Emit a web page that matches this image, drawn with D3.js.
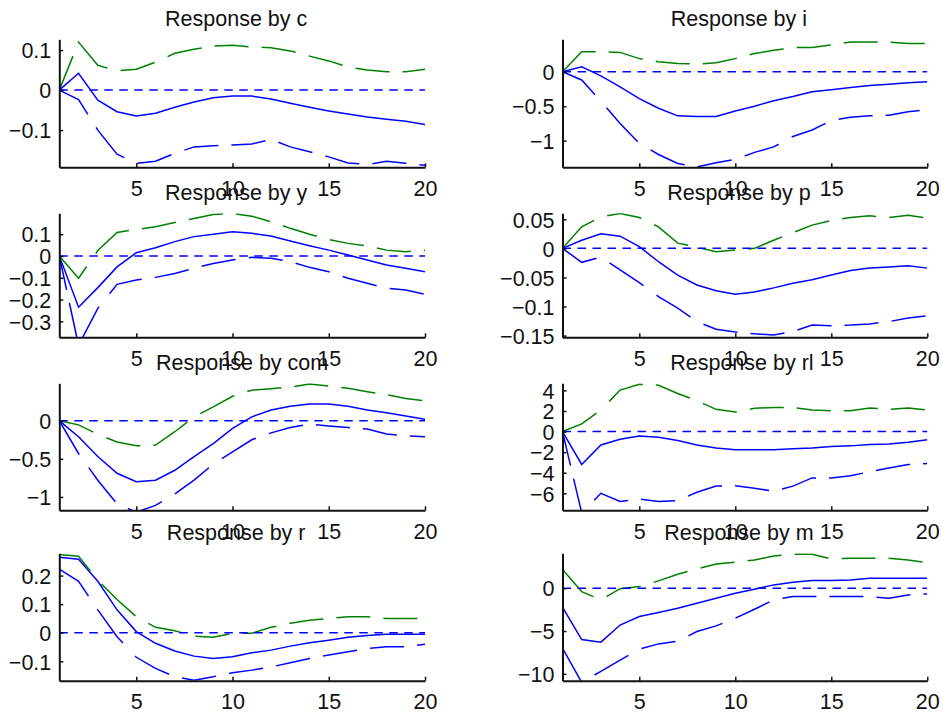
<!DOCTYPE html>
<html>
<head>
<meta charset="utf-8">
<title>Responses</title>
<script src="https://cdn.jsdelivr.net/npm/d3@7"></script>
<style>
  body { margin: 0; background: #fff; }
  svg text { font-family: "Liberation Sans", Arial, sans-serif; font-size: 21.5px; fill: #111; white-space: pre; }
</style>
</head>
<body>
<div id="chart"></div>
<script>
// horizon 1..20
var steps = d3.range(1, 21);
var xTicks = [5, 10, 15, 20];

// names are padded like a char matrix, hence the trailing blanks
var names = ["c  ", "i  ", "y  ", "p  ", "com", "rl ", "r  ", "m  "];

var c_mid = [0, 0.042, -0.025, -0.054, -0.065, -0.058, -0.043, -0.03, -0.019, -0.015, -0.015, -0.022, -0.033, -0.043, -0.052, -0.06, -0.067, -0.073, -0.078, -0.086];
var c_lo  = [0, -0.024, -0.1, -0.16, -0.183, -0.178, -0.158, -0.142, -0.139, -0.137, -0.135, -0.123, -0.142, -0.154, -0.167, -0.182, -0.186, -0.178, -0.183, -0.188];
var c_hi  = [0, 0.12, 0.062, 0.048, 0.052, 0.07, 0.092, 0.102, 0.11, 0.112, 0.108, 0.106, 0.098, 0.085, 0.073, 0.058, 0.05, 0.046, 0.046, 0.052];

var i_mid = [0, 0.07, -0.06, -0.22, -0.39, -0.53, -0.64, -0.65, -0.65, -0.57, -0.5, -0.42, -0.36, -0.29, -0.26, -0.23, -0.2, -0.18, -0.16, -0.145];
var i_lo  = [0, -0.12, -0.43, -0.75, -1.04, -1.2, -1.33, -1.38, -1.32, -1.27, -1.17, -1.09, -0.94, -0.845, -0.71, -0.66, -0.64, -0.63, -0.58, -0.55];
var i_hi  = [0, 0.29, 0.29, 0.28, 0.19, 0.145, 0.12, 0.11, 0.13, 0.19, 0.265, 0.31, 0.35, 0.35, 0.39, 0.43, 0.43, 0.43, 0.41, 0.41];

var y_mid = [0, -0.235, -0.145, -0.05, 0.015, 0.038, 0.066, 0.089, 0.1, 0.111, 0.104, 0.092, 0.069, 0.047, 0.027, 0.005, -0.018, -0.041, -0.056, -0.072];
var y_lo  = [0, -0.41, -0.24, -0.13, -0.11, -0.098, -0.08, -0.056, -0.034, -0.018, -0.006, -0.01, -0.026, -0.052, -0.072, -0.102, -0.125, -0.148, -0.156, -0.176];
var y_hi  = [0, -0.102, 0.025, 0.108, 0.122, 0.134, 0.154, 0.172, 0.19, 0.195, 0.183, 0.157, 0.127, 0.1, 0.076, 0.058, 0.046, 0.027, 0.02, 0.027];

var p_mid = [0, 0.014, 0.025, 0.021, 0.003, -0.023, -0.046, -0.063, -0.073, -0.079, -0.075, -0.068, -0.06, -0.054, -0.046, -0.038, -0.034, -0.032, -0.03, -0.034];
var p_lo  = [0, -0.024, -0.015, -0.037, -0.059, -0.083, -0.103, -0.126, -0.139, -0.144, -0.147, -0.149, -0.143, -0.132, -0.133, -0.132, -0.13, -0.126, -0.12, -0.116];
var p_hi  = [0, 0.037, 0.054, 0.06, 0.053, 0.037, 0.009, 0.002, -0.006, -0.003, 0, 0.014, 0.027, 0.04, 0.048, 0.053, 0.056, 0.053, 0.057, 0.052];

var com_mid = [0, -0.21, -0.47, -0.69, -0.8, -0.78, -0.65, -0.47, -0.3, -0.1, 0.05, 0.14, 0.19, 0.22, 0.22, 0.19, 0.14, 0.105, 0.06, 0.02];
var com_lo  = [0, -0.43, -0.78, -1.09, -1.2, -1.11, -0.96, -0.78, -0.57, -0.41, -0.25, -0.16, -0.09, -0.045, -0.07, -0.09, -0.11, -0.175, -0.2, -0.21];
var com_hi  = [0, -0.055, -0.18, -0.28, -0.33, -0.32, -0.145, 0.05, 0.18, 0.32, 0.4, 0.42, 0.44, 0.48, 0.455, 0.425, 0.38, 0.34, 0.29, 0.26];

var rl_mid = [0, -3.2, -1.3, -0.74, -0.42, -0.55, -0.87, -1.3, -1.6, -1.77, -1.77, -1.77, -1.68, -1.6, -1.45, -1.39, -1.26, -1.2, -1.03, -0.8];
var rl_lo  = [0, -7.9, -6.0, -6.8, -6.55, -6.8, -6.7, -5.9, -5.3, -5.26, -5.5, -5.8, -5.3, -4.5, -4.5, -4.3, -3.9, -3.55, -3.2, -3.1];
var rl_hi  = [0, 0.74, 2.1, 4.03, 4.6, 4.5, 3.7, 3.0, 2.16, 1.9, 2.26, 2.35, 2.35, 2.1, 2.03, 2.03, 2.29, 2.16, 2.29, 2.1];

var r_mid = [0.264, 0.257, 0.18, 0.08, 0.004, -0.037, -0.064, -0.082, -0.09, -0.084, -0.07, -0.061, -0.047, -0.035, -0.026, -0.016, -0.01, -0.005, -0.005, -0.005];
var r_lo  = [0.223, 0.18, 0.08, -0.014, -0.086, -0.125, -0.154, -0.166, -0.154, -0.14, -0.131, -0.12, -0.105, -0.09, -0.078, -0.067, -0.055, -0.049, -0.049, -0.04];
var r_hi  = [0.274, 0.268, 0.184, 0.116, 0.056, 0.019, 0.007, -0.012, -0.016, -0.002, -0.002, 0.019, 0.033, 0.044, 0.05, 0.056, 0.056, 0.05, 0.05, 0.05];

var m_mid = [-2.2, -6.0, -6.3, -4.3, -3.3, -2.84, -2.33, -1.75, -1.17, -0.58, -0.12, 0.39, 0.7, 0.9, 0.9, 0.97, 1.17, 1.17, 1.17, 1.17];
var m_lo  = [-7.0, -11.0, -9.7, -8.4, -7.1, -6.5, -6.2, -5.06, -4.4, -3.5, -2.45, -1.36, -0.97, -0.97, -0.97, -0.97, -0.97, -1.17, -0.78, -0.66];
var m_hi  = [2.2, -0.39, -1.36, -0.05, 0.19, 0.86, 1.63, 2.26, 2.84, 3.03, 3.3, 3.77, 3.97, 3.97, 3.42, 3.5, 3.5, 3.5, 3.3, 3.0];

// y limits (tight) and tick values per panel
var yLims = [[-0.193, 0.127], [-1.386, 0.47], [-0.373, 0.196], [-0.153, 0.0603],
             [-1.175, 0.49], [-7.65, 4.69], [-0.168, 0.278], [-10.8, 4.08]];
var yTicks = [[-0.1, 0, 0.1], [-1, -0.5, 0], [-0.3, -0.2, -0.1, 0, 0.1], [-0.15, -0.1, -0.05, 0, 0.05],
              [-1, -0.5, 0], [-6, -4, -2, 0, 2, 4], [-0.1, 0, 0.1, 0.2], [-10, -5, 0]];

var panels = [
  {mid: c_mid, lo: c_lo, hi: c_hi}, {mid: i_mid, lo: i_lo, hi: i_hi},
  {mid: y_mid, lo: y_lo, hi: y_hi}, {mid: p_mid, lo: p_lo, hi: p_hi},
  {mid: com_mid, lo: com_lo, hi: com_hi}, {mid: rl_mid, lo: rl_lo, hi: rl_hi},
  {mid: r_mid, lo: r_lo, hi: r_hi}, {mid: m_mid, lo: m_lo, hi: m_hi}
];

var W = 943, H = 713;
var colX = [[59.3, 425], [562.5, 927.3]];
var rowY = [[39.3, 167.3], [213.3, 337.3], [383.3, 510.3], [553.3, 680.7]];

var svg = d3.select("#chart").append("svg")
    .attr("width", W).attr("height", H);

// stipple like an old raster renderer: pattern counted in pixels along the major axis
function stipple(pts, on, off) {
  var period = on + off, pos = 0, d = "", drawing = false;
  for (var k = 1; k < pts.length; k++) {
    var a = pts[k - 1], b = pts[k];
    var dx = b[0] - a[0], dy = b[1] - a[1];
    var L = Math.max(Math.abs(dx), Math.abs(dy));
    if (L === 0) continue;
    var t = 0;
    while (t < L - 1e-9) {
      var inOn = pos < on;
      var step = Math.min(inOn ? on - pos : period - pos, L - t);
      if (inOn) {
        if (!drawing) d += "M" + (a[0] + dx * t / L) + "," + (a[1] + dy * t / L);
        d += "L" + (a[0] + dx * (t + step) / L) + "," + (a[1] + dy * (t + step) / L);
        drawing = true;
      } else {
        drawing = false;
      }
      t += step; pos += step;
      if (pos >= period - 1e-9) pos -= period;
    }
  }
  return d;
}

panels.forEach(function(p, idx) {
  var col = idx % 2, row = Math.floor(idx / 2);
  var x0 = colX[col][0], x1 = colX[col][1], top = rowY[row][0], bot = rowY[row][1];

  var x = d3.scaleLinear().domain([1, 20]).range([x0, x1]);
  var y = d3.scaleLinear().domain(yLims[idx]).range([bot, top]);

  var g = svg.append("g");
  var clipId = "clip" + idx;
  g.append("clipPath").attr("id", clipId)
    .append("rect").attr("x", x0).attr("y", top).attr("width", x1 - x0).attr("height", bot - top);

  var plot = g.append("g").attr("clip-path", "url(#" + clipId + ")");
  function pts(vals) { return steps.map(function(s, i) { return [x(s), y(vals[i])]; }); }

  plot.append("path")
    .attr("d", d3.line()(pts(p.mid)))
    .attr("fill", "none").attr("stroke", "#0000ff").attr("stroke-width", 1.5);
  plot.append("path")
    .attr("d", stipple(pts(p.lo), 34, 13))
    .attr("fill", "none").attr("stroke", "#0000ff").attr("stroke-width", 1.5);
  plot.append("path")
    .attr("d", stipple(pts(p.hi), 34, 13))
    .attr("fill", "none").attr("stroke", "#008000").attr("stroke-width", 1.5);
  plot.append("path")
    .attr("d", stipple([[x(1), y(0)], [x(20), y(0)]], 8.5, 6.5))
    .attr("fill", "none").attr("stroke", "#0000ff").attr("stroke-width", 1.5);

  // axes: ticks point inward, MATLAB style, box off
  var yAxis = d3.axisLeft(y).tickValues(yTicks[idx]).tickSizeInner(-4).tickSizeOuter(0)
    .tickPadding(8).tickFormat(function(v) { return d3.format("")(v).replace("-", "\u2212"); });
  var xAxis = d3.axisBottom(x).tickValues(xTicks).tickSizeInner(-4).tickSizeOuter(0).tickPadding(13);

  var ya = g.append("g").attr("transform", "translate(" + x0 + ",0)").call(yAxis);
  var xa = g.append("g").attr("transform", "translate(0," + bot + ")").call(xAxis);
  [ya, xa].forEach(function(a) {
    a.attr("font-size", null).attr("font-family", null);
    a.select(".domain").attr("stroke", "#111").attr("stroke-width", 2);
    a.selectAll(".tick line").attr("stroke", "#111").attr("stroke-width", 1.5);
    a.selectAll("text").attr("fill", null);
  });
  ya.selectAll(".tick text").attr("dy", "0.36em");
  xa.selectAll(".tick text").attr("dy", "0.71em");

  g.append("text")
    .attr("x", (x0 + x1) / 2).attr("y", top - 13.5)
    .attr("text-anchor", "middle")
    .text("Response by " + names[idx]);
});
</script>
</body>
</html>
